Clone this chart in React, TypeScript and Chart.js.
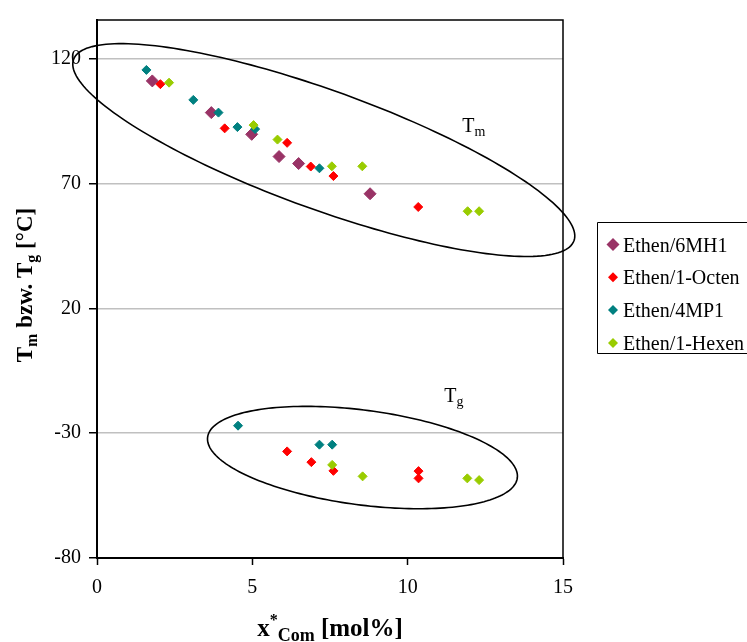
import React, { useEffect, useRef } from "react";
import { Chart, registerables } from "chart.js";

Chart.register(...registerables);

// ---- data ----
const SERIES_LABELS = ["Ethen/6MH1", "Ethen/1-Octen", "Ethen/4MP1", "Ethen/1-Hexen"];
const SERIES_COLORS = ["#993366", "#FF0000", "#008080", "#99CC00"];

const X_6MH1 = [1.78, 3.68, 4.98, 5.86, 6.49, 8.79];
const Y_6MH1 = [111.1, 98.4, 89.7, 80.8, 78.0, 65.9];

const X_OCTEN = [2.04, 4.11, 6.12, 6.88, 7.61, 10.34, 6.12, 6.9, 7.61, 10.35, 10.35];
const Y_OCTEN = [109.8, 92.1, 86.3, 76.8, 73.0, 60.6, -37.3, -41.6, -45.1, -45.2, -48.1];

const X_4MP1 = [1.59, 3.1, 3.91, 4.52, 5.09, 7.16, 4.54, 7.16, 7.57];
const Y_4MP1 = [115.5, 103.5, 98.4, 92.6, 91.8, 76.1, -27.0, -34.6, -34.6];

const X_HEXEN = [2.32, 5.04, 5.81, 7.56, 8.54, 11.93, 12.3, 7.57, 8.55, 11.92, 12.3];
const Y_HEXEN = [110.4, 93.4, 87.6, 76.9, 76.9, 58.9, 58.9, -42.7, -47.3, -48.1, -48.8];

const X_TICKS = [0, 5, 10, 15];
const Y_TICKS = [-80, -30, 20, 70, 120];
const X_MIN = 0;
const X_MAX = 15;
const Y_MIN = -80;
const Y_MAX = 135.5;

// ellipse annotations in data units: centre + two conjugate half-axis vectors
const TM_ELLIPSE = { cx: 7.3, cy: 83.4, ux: 8.053, uy: -36.33, vx: -0.657, vy: -22.31 };
const TG_ELLIPSE = { cx: 8.545, cy: -39.76, ux: 4.984, uy: -8.2, vx: -0.202, vy: -18.8 };
const TM_LABEL = { x: 11.76, y: 90.5 };
const TG_LABEL = { x: 11.18, y: -17.4 };

const FONT = '"Liberation Serif", "Times New Roman", serif';

function toPoints(xs: number[], ys: number[]) {
  return xs.map((x, i) => ({ x, y: ys[i] }));
}

type Part = { t: string; size: number; dy: number };

function measureRich(ctx: CanvasRenderingContext2D, parts: Part[], bold: boolean) {
  return parts.map((p) => {
    ctx.font = `${bold ? "bold " : ""}${p.size}px ${FONT}`;
    return ctx.measureText(p.t).width;
  });
}

function drawRich(
  ctx: CanvasRenderingContext2D,
  parts: Part[],
  x: number,
  y: number,
  align: "left" | "center",
  bold: boolean
) {
  const widths = measureRich(ctx, parts, bold);
  const total = widths.reduce((a, b) => a + b, 0);
  let cx = align === "center" ? x - total / 2 : x;
  ctx.textAlign = "left";
  ctx.textBaseline = "alphabetic";
  parts.forEach((p, i) => {
    ctx.font = `${bold ? "bold " : ""}${p.size}px ${FONT}`;
    ctx.fillText(p.t, cx, y + p.dy);
    cx += widths[i];
  });
}

function drawDiamond(ctx: CanvasRenderingContext2D, x: number, y: number, r: number, color: string) {
  ctx.beginPath();
  ctx.moveTo(x - r, y);
  ctx.lineTo(x, y - r);
  ctx.lineTo(x + r, y);
  ctx.lineTo(x, y + r);
  ctx.closePath();
  ctx.fillStyle = color;
  ctx.fill();
}

const overlayPlugin = {
  id: "overlay",
  afterDraw(chart: any) {
    const ctx: CanvasRenderingContext2D = chart.ctx;
    const xs = chart.scales.x;
    const ys = chart.scales.y;
    const area = chart.chartArea;
    ctx.save();

    // plot frame (top & right)
    ctx.strokeStyle = "#000";
    ctx.lineWidth = 1.5;
    ctx.beginPath();
    ctx.moveTo(area.left, area.top);
    ctx.lineTo(area.right, area.top);
    ctx.lineTo(area.right, area.bottom);
    ctx.stroke();

    // ellipses
    const drawEllipse = (e: typeof TM_ELLIPSE) => {
      ctx.beginPath();
      const n = 200;
      for (let i = 0; i <= n; i++) {
        const t = (i / n) * Math.PI * 2;
        const X = e.cx + e.ux * Math.cos(t) + e.vx * Math.sin(t);
        const Y = e.cy + e.uy * Math.cos(t) + e.vy * Math.sin(t);
        const px = xs.getPixelForValue(X);
        const py = ys.getPixelForValue(Y);
        if (i === 0) ctx.moveTo(px, py);
        else ctx.lineTo(px, py);
      }
      ctx.closePath();
      ctx.strokeStyle = "#000";
      ctx.lineWidth = 1.6;
      ctx.stroke();
    };
    drawEllipse(TM_ELLIPSE);
    drawEllipse(TG_ELLIPSE);

    ctx.fillStyle = "#000";
    // Tm / Tg labels
    drawRich(
      ctx,
      [
        { t: "T", size: 20, dy: 0 },
        { t: "m", size: 14, dy: 4 },
      ],
      xs.getPixelForValue(TM_LABEL.x),
      ys.getPixelForValue(TM_LABEL.y),
      "left",
      false
    );
    drawRich(
      ctx,
      [
        { t: "T", size: 20, dy: 0 },
        { t: "g", size: 14, dy: 4 },
      ],
      xs.getPixelForValue(TG_LABEL.x),
      ys.getPixelForValue(TG_LABEL.y),
      "left",
      false
    );

    // x title
    drawRich(
      ctx,
      [
        { t: "x", size: 25, dy: 0 },
        { t: "*", size: 16, dy: -11 },
        { t: "Com", size: 18, dy: 5 },
        { t: " [mol%]", size: 25, dy: 0 },
      ],
      (area.left + area.right) / 2,
      636,
      "center",
      true
    );

    // y title (rotated)
    ctx.save();
    ctx.translate(24, 285);
    ctx.rotate(-Math.PI / 2);
    drawRich(
      ctx,
      [
        { t: "T", size: 23, dy: 0 },
        { t: "m", size: 16, dy: 5 },
        { t: " bzw. T", size: 23, dy: 0 },
        { t: "g", size: 16, dy: 5 },
        { t: " [°C]", size: 23, dy: 0 },
      ],
      0,
      8,
      "center",
      true
    );
    ctx.restore();

    // legend (box runs off the right edge of the canvas)
    const lx = 597.5;
    const ly = 222.5;
    const lh = 131;
    const lr = 2000;
    ctx.strokeStyle = "#000";
    ctx.lineWidth = 1;
    ctx.beginPath();
    ctx.moveTo(lr, ly);
    ctx.lineTo(lx, ly);
    ctx.lineTo(lx, ly + lh);
    ctx.lineTo(lr, ly + lh);
    ctx.stroke();
    chart.data.datasets.forEach((ds: any, i: number) => {
      const rowY = 244.5 + i * 32.8;
      drawDiamond(ctx, 613, rowY, ds.pointRadius + 0.5, ds.backgroundColor);
      ctx.fillStyle = "#000";
      ctx.font = `20px ${FONT}`;
      ctx.textAlign = "left";
      ctx.textBaseline = "alphabetic";
      ctx.fillText(ds.label, 623, rowY + 7);
    });

    ctx.restore();
  },
};

export default function App() {
  const ref = useRef<HTMLCanvasElement | null>(null);

  useEffect(() => {
    document.body.style.margin = "0";
    const canvas = ref.current;
    if (!canvas) return;
    const seriesX = [X_6MH1, X_OCTEN, X_4MP1, X_HEXEN];
    const seriesY = [Y_6MH1, Y_OCTEN, Y_4MP1, Y_HEXEN];
    const radii = [6, 4.5, 4.5, 4.5];
    const chart = new Chart(canvas, {
      type: "scatter",
      data: {
        datasets: SERIES_LABELS.map((label, i) => ({
          label,
          data: toPoints(seriesX[i], seriesY[i]),
          backgroundColor: SERIES_COLORS[i],
          borderColor: SERIES_COLORS[i],
          borderWidth: 1,
          pointStyle: "rectRot",
          pointRadius: radii[i],
          pointHoverRadius: radii[i],
          order: 4 - i,
        })),
      },
      options: {
        animation: false,
        responsive: false,
        maintainAspectRatio: false,
        events: [],
        layout: { padding: { left: 0, top: 15, right: 184, bottom: 0 } },
        plugins: {
          legend: { display: false },
          tooltip: { enabled: false },
          title: { display: false },
        },
        scales: {
          x: {
            type: "linear",
            min: X_MIN,
            max: X_MAX,
            afterBuildTicks: (scale: any) => {
              scale.ticks = X_TICKS.map((v) => ({ value: v }));
            },
            afterFit: (scale: any) => {
              scale.height = 84;
            },
            grid: {
              drawOnChartArea: false,
              drawTicks: true,
              tickLength: 7,
              tickColor: "#000",
              tickWidth: 1.5,
            },
            border: { color: "#000", width: 2 },
            ticks: {
              font: { family: FONT, size: 20 },
              color: "#000",
              padding: 11,
              maxRotation: 0,
            },
          },
          y: {
            type: "linear",
            min: Y_MIN,
            max: Y_MAX,
            afterBuildTicks: (scale: any) => {
              scale.ticks = Y_TICKS.map((v) => ({ value: v }));
            },
            afterFit: (scale: any) => {
              scale.width = 97;
            },
            grid: {
              color: "#c0c0c0",
              lineWidth: 1.5,
              drawTicks: true,
              tickLength: 8,
              tickColor: "#000",
              tickWidth: 1.5,
            },
            border: { color: "#000", width: 2 },
            ticks: {
              font: { family: FONT, size: 20 },
              color: "#000",
              padding: 8,
            },
          },
        },
      },
      plugins: [overlayPlugin],
    } as any);
    return () => chart.destroy();
  }, []);

  return (
    <div style={{ width: 747, height: 642, background: "#fff" }}>
      <canvas ref={ref} width={747} height={642} style={{ display: "block" }} />
    </div>
  );
}
